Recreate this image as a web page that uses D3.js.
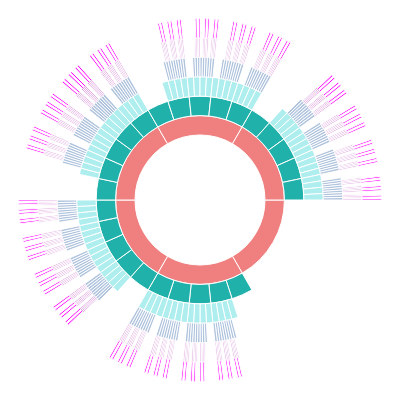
<!DOCTYPE html>
<html lang="en">
<head>
	<meta charset="utf-8">
	<title>Sunburst</title>
	<script src="https://d3js.org/d3.v7.min.js"></script>
	<style>
		body { margin: 0; background-color: #ffffff; }
	</style>
</head>
<body>
	<div id="chart"></div>
	<script>
	// number of children under every node, by depth (root has 6, each of those 5, ...)
	var branching = [6, 5, 4, 3, 2, 1];
	// the first child of each node is a leaf, the others branch again
	var leaf_child = 0;
	var ring_colors = ["lightcoral", "lightseagreen", "paleturquoise", "lightsteelblue", "plum", "magenta"];

	// a leaf takes the same share it would have if it kept branching
	function leaf_size(depth) {
		var s = 1;
		for (var k = depth; k < branching.length; k++) s *= branching[k];
		return s;
	}

	function build(depth) {
		var node = {name: "n" + depth, children: []};
		for (var i = 0; i < branching[depth]; i++) {
			if (i == leaf_child || depth + 1 == branching.length) {
				node.children.push({name: "leaf", size: leaf_size(depth + 1)});
			} else {
				node.children.push(build(depth + 1));
			}
		}
		return node;
	}

	var width = 400, height = 400;

	var root = d3.hierarchy(build(0))
		.sum(function(d) { return d.children ? 0 : d.size; });

	d3.partition().size([2 * Math.PI, branching.length + 1])(root);

	// first slice starts at 3 o'clock
	var angle = d3.scaleLinear().domain([0, 2 * Math.PI]).range([Math.PI / 2, Math.PI * 2.5]);
	var radius = d3.scaleLinear().domain([1, branching.length + 1]).range([65, 181.5]);

	var arc = d3.arc()
		.startAngle(function(d) { return angle(d.x0); })
		.endAngle(function(d) { return angle(d.x1); })
		.innerRadius(function(d) { return radius(d.y0); })
		.outerRadius(function(d) { return radius(d.y1); });

	var svg = d3.select("#chart")
		.append("svg")
		.attr("width", width)
		.attr("height", height);

	var g = svg.append("g")
		.attr("transform", "translate(" + width / 2 + "," + height / 2 + ")");

	g.selectAll("path")
		.data(root.descendants().filter(function(d) { return d.depth > 0; }))
		.enter().append("path")
		.attr("d", arc)
		.attr("fill", function(d) { return ring_colors[d.depth - 1]; })
		.attr("stroke", "#fff")
		.attr("stroke-width", 1);
	</script>
</body>
</html>
